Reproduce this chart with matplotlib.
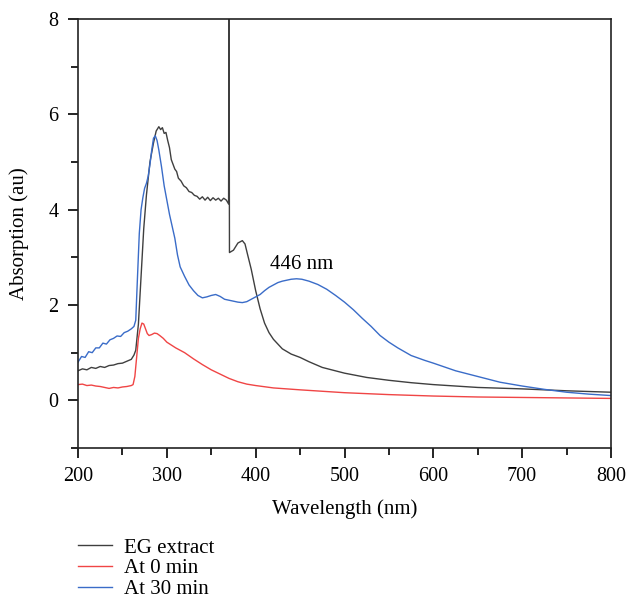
import matplotlib.pyplot as plt
from matplotlib.ticker import MultipleLocator

plt.rcParams['font.family'] = ['Liberation Serif', 'DejaVu Serif']
plt.rcParams['font.size'] = 14.5

# EG extract
wl_eg = [200, 205, 210, 215, 220, 225, 230, 235, 240, 245, 250, 255, 260, 263, 265,
         268, 271, 274, 277, 281, 285, 288, 291, 293, 295, 297, 299, 301, 303, 305,
         307, 309, 311, 313, 316, 319, 322, 325, 328, 331, 334, 337, 340, 343, 346,
         349, 352, 355, 358, 361, 364, 367, 369.5, 370, 370.5, 375, 380, 385, 388, 391,
         395, 400, 405, 410, 415, 420, 430, 440, 450, 460, 475, 500, 525, 550, 575,
         600, 650, 700, 750, 800]
abs_eg = [0.62, 0.66, 0.64, 0.69, 0.67, 0.71, 0.69, 0.73, 0.74, 0.77, 0.78, 0.82, 0.86, 0.95, 1.05,
          1.6, 2.6, 3.6, 4.3, 5.0, 5.4, 5.65, 5.74, 5.68, 5.72, 5.6, 5.62, 5.45, 5.3, 5.05,
          4.95, 4.85, 4.8, 4.66, 4.6, 4.5, 4.46, 4.38, 4.36, 4.3, 4.28, 4.22, 4.27, 4.2, 4.26,
          4.19, 4.25, 4.2, 4.24, 4.18, 4.24, 4.2, 4.12, 9.0, 3.1, 3.15, 3.3, 3.35, 3.28, 3.05,
          2.75, 2.3, 1.92, 1.62, 1.42, 1.28, 1.08, 0.97, 0.9, 0.81, 0.69, 0.57, 0.48, 0.42, 0.37,
          0.33, 0.27, 0.24, 0.2, 0.17]

# At 0 min
wl_0 = [200, 205, 210, 215, 220, 225, 230, 235, 240, 245, 250, 255, 260,
        262, 264, 266, 268, 270, 272, 274, 276, 278, 280,
        283, 286, 289, 292, 296, 300,
        310, 320, 330, 340, 350, 360, 370, 380, 390, 400,
        420, 450, 500, 550, 600, 650, 700, 750, 800]
abs_0 = [0.33, 0.34, 0.31, 0.32, 0.30, 0.29, 0.27, 0.25, 0.27, 0.26, 0.28, 0.29, 0.31,
         0.33, 0.5, 0.9, 1.3, 1.5, 1.62, 1.6, 1.5, 1.4, 1.36,
         1.38, 1.41, 1.40, 1.36, 1.3, 1.22,
         1.1, 1.0, 0.87, 0.75, 0.64, 0.55, 0.46, 0.39, 0.34, 0.31,
         0.26, 0.22, 0.16, 0.12, 0.09, 0.07, 0.06, 0.05, 0.04]

# At 30 min
wl_30 = [200, 204, 208, 212, 216, 220, 224, 228, 232, 236, 240, 244, 248, 252, 256, 260,
         263, 265, 267, 269, 271, 273, 275, 277, 279, 281, 283, 285, 287, 289, 291,
         294, 297, 300, 303, 306, 309, 312, 315,
         320, 325, 330, 335, 340, 345, 350, 355, 360, 365, 370, 375, 380, 385, 390, 395,
         400, 405, 410, 415, 420, 425, 430, 435, 440,
         446, 452, 460, 470, 480, 490, 500, 510, 520, 530, 540, 550, 560, 575, 590, 600,
         625, 650, 675, 700, 725, 750, 775, 800]
abs_30 = [0.8, 0.92, 0.9, 1.02, 1.0, 1.1, 1.1, 1.2, 1.18, 1.27, 1.3, 1.35, 1.34, 1.42, 1.45, 1.5,
          1.55, 1.68, 2.6, 3.5, 4.0, 4.25, 4.45, 4.55, 4.7, 4.95, 5.25, 5.5, 5.55, 5.45, 5.25,
          4.9, 4.5, 4.2, 3.9, 3.65, 3.4, 3.05, 2.8,
          2.6, 2.42, 2.3, 2.2, 2.15, 2.17, 2.2, 2.22, 2.18, 2.12, 2.1, 2.08, 2.06, 2.05, 2.07, 2.12,
          2.17, 2.22, 2.3, 2.37, 2.42, 2.47, 2.5, 2.52, 2.54,
          2.55, 2.54, 2.5, 2.43, 2.33, 2.2, 2.06, 1.9, 1.72, 1.55, 1.36, 1.22, 1.1, 0.94, 0.84, 0.78,
          0.62, 0.5, 0.38, 0.3, 0.23, 0.17, 0.13, 0.1]

fig = plt.figure(figsize=(6.27, 5.99), dpi=100)
ax = fig.add_axes([0.1244, 0.2521, 0.8501, 0.7162])

ax.plot(wl_eg, abs_eg, color='#3f3f3f', lw=1.0, label='EG extract')
ax.plot(wl_0, abs_0, color='#f04545', lw=1.0, label='At 0 min')
ax.plot(wl_30, abs_30, color='#3a6cc8', lw=1.0, label='At 30 min')

ax.text(416, 2.85, '446 nm', va='center', ha='left', fontsize=15)

ax.set_xlim(200, 800)
ax.set_ylim(-1, 8)
ax.xaxis.set_major_locator(MultipleLocator(100))
ax.xaxis.set_minor_locator(MultipleLocator(50))
ax.yaxis.set_major_locator(MultipleLocator(2))
ax.yaxis.set_minor_locator(MultipleLocator(1))
ax.tick_params(which='major', direction='out', length=7, width=1.2, pad=7)
ax.tick_params(which='minor', direction='out', length=5, width=1.2)
for s in ax.spines.values():
    s.set_linewidth(1.2)
    s.set_color('#222222')

ax.set_xlabel('Wavelength (nm)', fontsize=15, labelpad=9)
ax.set_ylabel('Absorption (au)', fontsize=15, labelpad=14)

fig.legend(loc='upper left', bbox_to_anchor=(0.124, 1 - 538 / 599),
           bbox_transform=fig.transFigure, fontsize=15,
           frameon=False, handlelength=1.65, handletextpad=0.55, labelspacing=0.05,
           borderpad=0, borderaxespad=0)

fig.savefig('out.png', dpi=100)
